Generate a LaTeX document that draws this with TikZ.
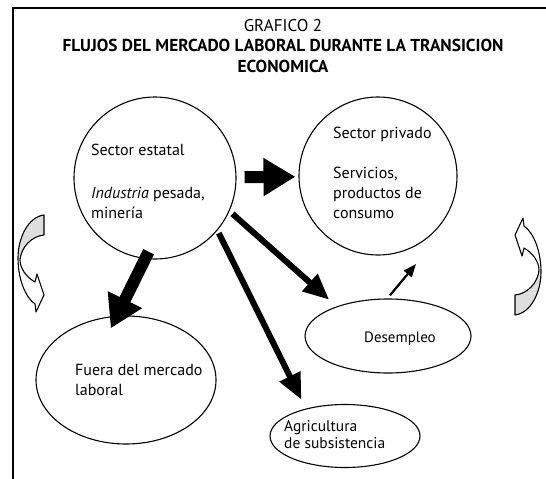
\documentclass[tikz,border=0pt]{standalone}
\usepackage{fontspec}
\setmainfont{PT Sans}
\usetikzlibrary{arrows.meta,shapes.geometric}

\definecolor{backgray}{gray}{0.87}

\tikzset{
  bubble/.style={circle,draw=black,line width=1.1pt,minimum size=158pt,inner sep=0pt},
  oval/.style={ellipse,draw=black,line width=1.1pt,inner sep=0pt},
  txt/.style={font=\fontsize{16}{20}\selectfont,align=left,inner sep=0pt},
  bigarrow/.style={line width=12pt,-{Triangle[width=36pt,length=32pt]}},
  midarrow/.style={line width=6pt,-{Triangle[width=22pt,length=26pt]}},
  thinarrow/.style={line width=2.2pt,-{Triangle[width=10pt,length=13pt]}},
}

% curved side arrow, drawn in pixel coordinates
\newcommand\curlarrow{%
  \fill[backgray] (44,215) .. controls (28,217) and (18,238) .. (18,258)
    -- (20,260) .. controls (21,247) and (32,236) .. (44,235) -- cycle;
  \draw[line width=1.1pt,line join=round] (44,215) .. controls (28,217) and (18,238) .. (18,258)
    .. controls (18,280) and (26,298) .. (35,304) -- (36,312) -- (44,295) -- (37,274) -- (35,282)
    .. controls (26,277) and (20,268) .. (20,260) .. controls (21,247) and (32,236) .. (44,235) -- cycle;
}

\begin{document}
\begin{tikzpicture}[x=1pt,y=-1pt]
  \useasboundingbox (0,0) rectangle (546,479);

  % frame
  \draw[line width=1.3pt] (13,479) -- (13,8) -- (546,8);

  % title
  \node[font=\fontsize{17}{21}\selectfont] (num) at (283,26) {GRAFICO 2};
  \node[font=\bfseries\fontsize{17.3}{21}\selectfont,align=center,anchor=north] (title) at (283,36)
    {FLUJOS DEL MERCADO LABORAL DURANTE LA TRANSICION\\ECONOMICA};

  % sectors
  \node[bubble,minimum size=162pt] (estatal) at (155,178) {};
  \node[bubble] (privado) at (378,176) {};
  \node[txt,anchor=west] (estatal-txt) at (91,181)
    {Sector estatal\\[23pt]\textit{Industria} pesada,\\minería};
  \node[txt,anchor=west] (privado-txt) at (333,173)
    {Sector privado\\[20pt]Servicios,\\productos de\\consumo};
  \coordinate (privado-in) at (416,264);

  % outflows
  \node[oval,minimum width=166pt,minimum height=74pt] (desempleo) at (388,336) {};
  \node[txt,font=\fontsize{15}{20}\selectfont] (desempleo-txt) at (400,339) {Desempleo};
  \node[oval,minimum width=180pt,minimum height=128pt] (fuera) at (126,380) {};
  \node[txt,anchor=west] (fuera-txt) at (75,380) {Fuera del mercado\\laboral};
  \node[oval,minimum width=150pt,minimum height=63pt] (agri) at (345,436) {};
  \node[txt,font=\fontsize{15.5}{17}\selectfont,anchor=west] (agri-txt) at (284,435)
    {Agricultura\\de subsistencia};

  % flows
  \draw[bigarrow,shorten <=8pt,shorten >=3pt] (estatal) -- (privado);
  \draw[bigarrow,shorten <=-8pt,shorten >=-14pt] (estatal.-97) -- (fuera.98);
  \draw[midarrow,shorten <=3pt,shorten >=10pt] (estatal.-40) -- (agri.145);
  \draw[midarrow,shorten <=4pt,shorten >=10pt] (estatal.-24) -- (desempleo.150);
  \draw[thinarrow,shorten <=4pt] (desempleo.91) -- (privado-in);

  % side arrows
  \curlarrow
  \begin{scope}[shift={(559,530)},rotate=180]
    \curlarrow
  \end{scope}
\end{tikzpicture}
\end{document}
